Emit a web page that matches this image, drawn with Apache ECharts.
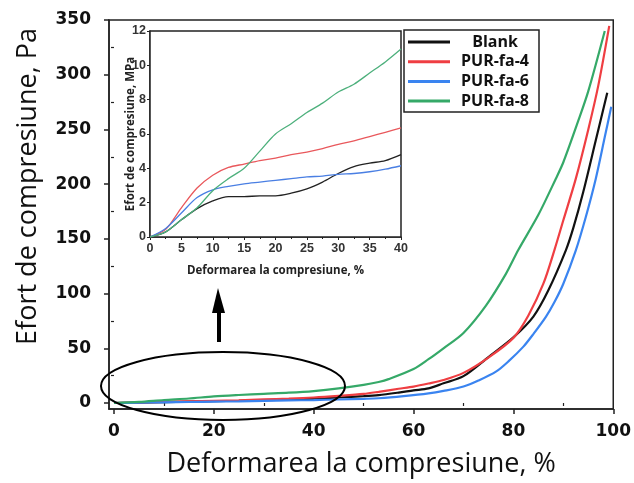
<!DOCTYPE html>
<html>
<head>
<meta charset="utf-8">
<script src="https://cdn.jsdelivr.net/npm/echarts@6/dist/echarts.min.js"></script>
<style>html,body{margin:0;padding:0;background:#fff}#c{width:634px;height:483px}</style>
</head>
<body>
<div id="c"></div>
<script>
// ---- Main chart data (strain %, stress) ----
const seriesNames = ['Blank', 'PUR-fa-4', 'PUR-fa-6', 'PUR-fa-8'];
const blankX = [0,5,10,15,20,25,30,35,40,45,50,53,57,60,63,66,70,75,80,84,87,90.5,92,94,96.5,98.8];
const blankY = [0,0.4,0.8,1.2,1.6,2,2.6,3.2,4,5,6.2,7.2,9.5,11.5,13.3,18,24.5,42,60,79,103,139.5,160,193,240,283.5];
const fa4X = [0,5,10,15,20,25,30,35,40,45,50,53,57,60,63,66,70,75,80,83,86,88.2,90,92.5,95,97,99.2];
const fa4Y = [0,0.5,1,1.5,2,2.5,3.3,4,5,6.5,8.3,10.2,13,15,17.8,21,27.5,41.5,59.5,80,109,139.5,167,205,250,290,344.6];
const fa6X = [0,5,10,15,20,25,30,35,40,45,50,53,58,63,66,70,73,76.5,79,82,84,86.5,88.2,90,92.5,94.5,96.5,98.3,99.6];
const fa6Y = [0,0.3,0.6,0.9,1.2,1.5,1.9,2.3,2.7,3.2,3.8,4.3,6.2,8.7,11,15,20.5,28.6,38,51.5,63,78.7,92,109,139.5,170,205,243,270.7];
const fa8X = [0,5,10,15,20,25,30,35,40,45,50,53,55,60,63,66,70,74.5,78.5,81,85,88.5,90,93,95,98.3];
const fa8Y = [0,1,2.7,4.1,6,7.3,8.4,9.4,10.9,13.3,16.5,19.2,21.8,31,40,50,64,89,118,140,172,205,220,258,285,340];

// ---- Inset data (strain %, stress MPa) ----
const insetX = [0,2.5,5,7.5,10,12.5,15,17.5,20,22.5,25,27.5,30,32.5,35,37.5,40];
const insetBlank = [0,0.3,1.0,1.65,2.1,2.35,2.35,2.4,2.4,2.55,2.8,3.2,3.7,4.1,4.3,4.45,4.8];
const insetFa4 = [0,0.45,1.7,2.85,3.6,4.05,4.25,4.45,4.6,4.8,4.95,5.15,5.4,5.6,5.85,6.1,6.35];
const insetFa6 = [0,0.5,1.4,2.3,2.75,2.95,3.1,3.2,3.3,3.4,3.5,3.55,3.65,3.7,3.8,3.95,4.15];
const insetFa8 = [0,0.3,1.0,1.7,2.7,3.4,4.0,5.0,6.0,6.6,7.25,7.8,8.45,8.9,9.55,10.2,10.95];

// ---- Tick labels ----
const mainXTicks = [0,20,40,60,80,100];
const mainXMinor = [10,30,50,70,90];
const mainYTicks = [0,50,100,150,200,250,300,350];
const mainYMinor = [25,75,125,175,225,275,325];

const mainColors = ['#111111', '#ef3e42', '#3a84f0', '#35a968'];
const insetColors = ['#222222', '#e9585c', '#4a7fe3', '#4db07c'];

function pairs(xs, ys) { return xs.map((x, i) => [x, ys[i]]); }

const chart = echarts.init(document.getElementById('c'), null, {renderer: 'canvas'});
const axisCol = '#222';
const tickFont = {fontFamily: 'DejaVu Sans', fontWeight: 'bold', fontSize: 17, color: '#111'};
const insetFont = {fontFamily: 'Liberation Sans', fontWeight: 'bold', fontSize: 12.5, color: '#333'};

const mainData = [pairs(blankX, blankY), pairs(fa4X, fa4Y), pairs(fa6X, fa6Y), pairs(fa8X, fa8Y)];
const insetData = [insetBlank, insetFa4, insetFa6, insetFa8].map(ys => pairs(insetX, ys));

const series = [];
seriesNames.forEach((n, i) => series.push({
  name: n, type: 'line', xAxisIndex: 0, yAxisIndex: 0, data: mainData[i],
  showSymbol: false, smooth: 0.3, lineStyle: {color: mainColors[i], width: 2.2},
  itemStyle: {color: mainColors[i]}, z: 3
}));
seriesNames.forEach((n, i) => series.push({
  name: n, type: 'line', xAxisIndex: 2, yAxisIndex: 2, data: insetData[i],
  showSymbol: false, smooth: 0.3, lineStyle: {color: insetColors[i], width: 1.3},
  itemStyle: {color: mainColors[i]}, z: 5
}));

chart.setOption({
  animation: false,
  backgroundColor: '#fff',
  grid: [
    {left: 109, right: 20, top: 20, bottom: 74, show: true, borderColor: axisCol, borderWidth: 1.5, backgroundColor: 'transparent'},
    {left: 150, top: 31, width: 251, height: 206, show: true, borderColor: axisCol, borderWidth: 1.5, backgroundColor: '#fff', z: 4}
  ],
  xAxis: [
    {gridIndex: 0, type: 'value', min: -1, max: 100, name: 'Deformarea la compresiune, %',
     nameLocation: 'middle', nameGap: 42, nameMoveOverlap: false,
     nameTextStyle: {fontFamily: 'Open Sans', fontSize: 27, color: '#111'},
     axisLine: {onZero: false, lineStyle: {color: axisCol, width: 1.5}},
     axisTick: {customValues: mainXTicks, length: 5, lineStyle: {color: axisCol, width: 1.5}},
     axisLabel: Object.assign({customValues: mainXTicks, margin: 14}, tickFont),
     splitLine: {show: false}},
    {gridIndex: 0, type: 'value', min: -1, max: 100, position: 'bottom',
     axisLine: {show: false},
     axisTick: {customValues: mainXMinor, length: 3, lineStyle: {color: axisCol, width: 1.2}},
     axisLabel: {show: false}, splitLine: {show: false}},
    {gridIndex: 1, type: 'value', min: 0, max: 40, interval: 5,
     name: 'Deformarea la compresiune, %', nameLocation: 'middle', nameGap: 28, nameMoveOverlap: false,
     nameTextStyle: {fontFamily: 'Open Sans', fontWeight: 'bold', fontSize: 11.5, color: '#222'},
     axisLine: {lineStyle: {color: axisCol, width: 1.5}},
     axisTick: {length: 3, lineStyle: {color: axisCol}},
     minorTick: {show: true, splitNumber: 2, length: 2, lineStyle: {color: axisCol}},
     axisLabel: Object.assign({margin: 5}, insetFont),
     splitLine: {show: false}}
  ],
  yAxis: [
    {gridIndex: 0, type: 'value', min: -5.5, max: 350, name: 'Efort de compresiune, Pa',
     nameLocation: 'middle', nameGap: 67, nameMoveOverlap: false,
     nameTextStyle: {fontFamily: 'Open Sans', fontSize: 27, color: '#111', padding: [0, 0, 0, 56]},
     axisLine: {onZero: false, lineStyle: {color: axisCol, width: 1.5}},
     axisTick: {customValues: mainYTicks, length: 5, lineStyle: {color: axisCol, width: 1.5}},
     axisLabel: Object.assign({customValues: mainYTicks, margin: 18}, tickFont),
     splitLine: {show: false}},
    {gridIndex: 0, type: 'value', min: -5.5, max: 350, position: 'left',
     axisLine: {show: false},
     axisTick: {customValues: mainYMinor, length: 3, lineStyle: {color: axisCol, width: 1.2}},
     axisLabel: {show: false}, splitLine: {show: false}},
    {gridIndex: 1, type: 'value', min: 0, max: 12, interval: 2,
     name: 'Efort de compresiune, MPa', nameLocation: 'middle', nameGap: 13, nameMoveOverlap: false,
     nameTextStyle: {fontFamily: 'Open Sans', fontWeight: 'bold', fontSize: 11.5, color: '#222'},
     axisLine: {lineStyle: {color: axisCol, width: 1.5}},
     axisTick: {length: 3, lineStyle: {color: axisCol}},
     axisLabel: Object.assign({margin: 4}, insetFont),
     splitLine: {show: false}}
  ],
  legend: {
    data: seriesNames, orient: 'vertical', left: 404, top: 30,
    padding: [4, 4, 3, 4], itemGap: 3.7, itemWidth: 42, itemHeight: 3, icon: 'rect',
    backgroundColor: '#fff', borderColor: axisCol, borderWidth: 1.5, z: 10,
    formatter: '{a|{name}}',
    textStyle: {fontFamily: 'Open Sans', fontWeight: 'bold', fontSize: 16, color: '#111',
      rich: {a: {width: 80, align: 'center', fontFamily: 'Open Sans', fontWeight: 'bold', fontSize: 16, lineHeight: 20, color: '#111'}}}
  },
  graphic: [
    {type: 'ellipse', shape: {cx: 223, cy: 386, rx: 122, ry: 34}, style: {fill: 'none', stroke: '#000', lineWidth: 2}, z: 20},
    {type: 'line', shape: {x1: 219, y1: 342, x2: 219, y2: 308}, style: {stroke: '#000', lineWidth: 4}, z: 20},
    {type: 'polygon', shape: {points: [[218, 288], [212, 313], [225, 313]]}, style: {fill: '#000'}, z: 20}
  ],
  series: series
});
</script>
</body>
</html>
